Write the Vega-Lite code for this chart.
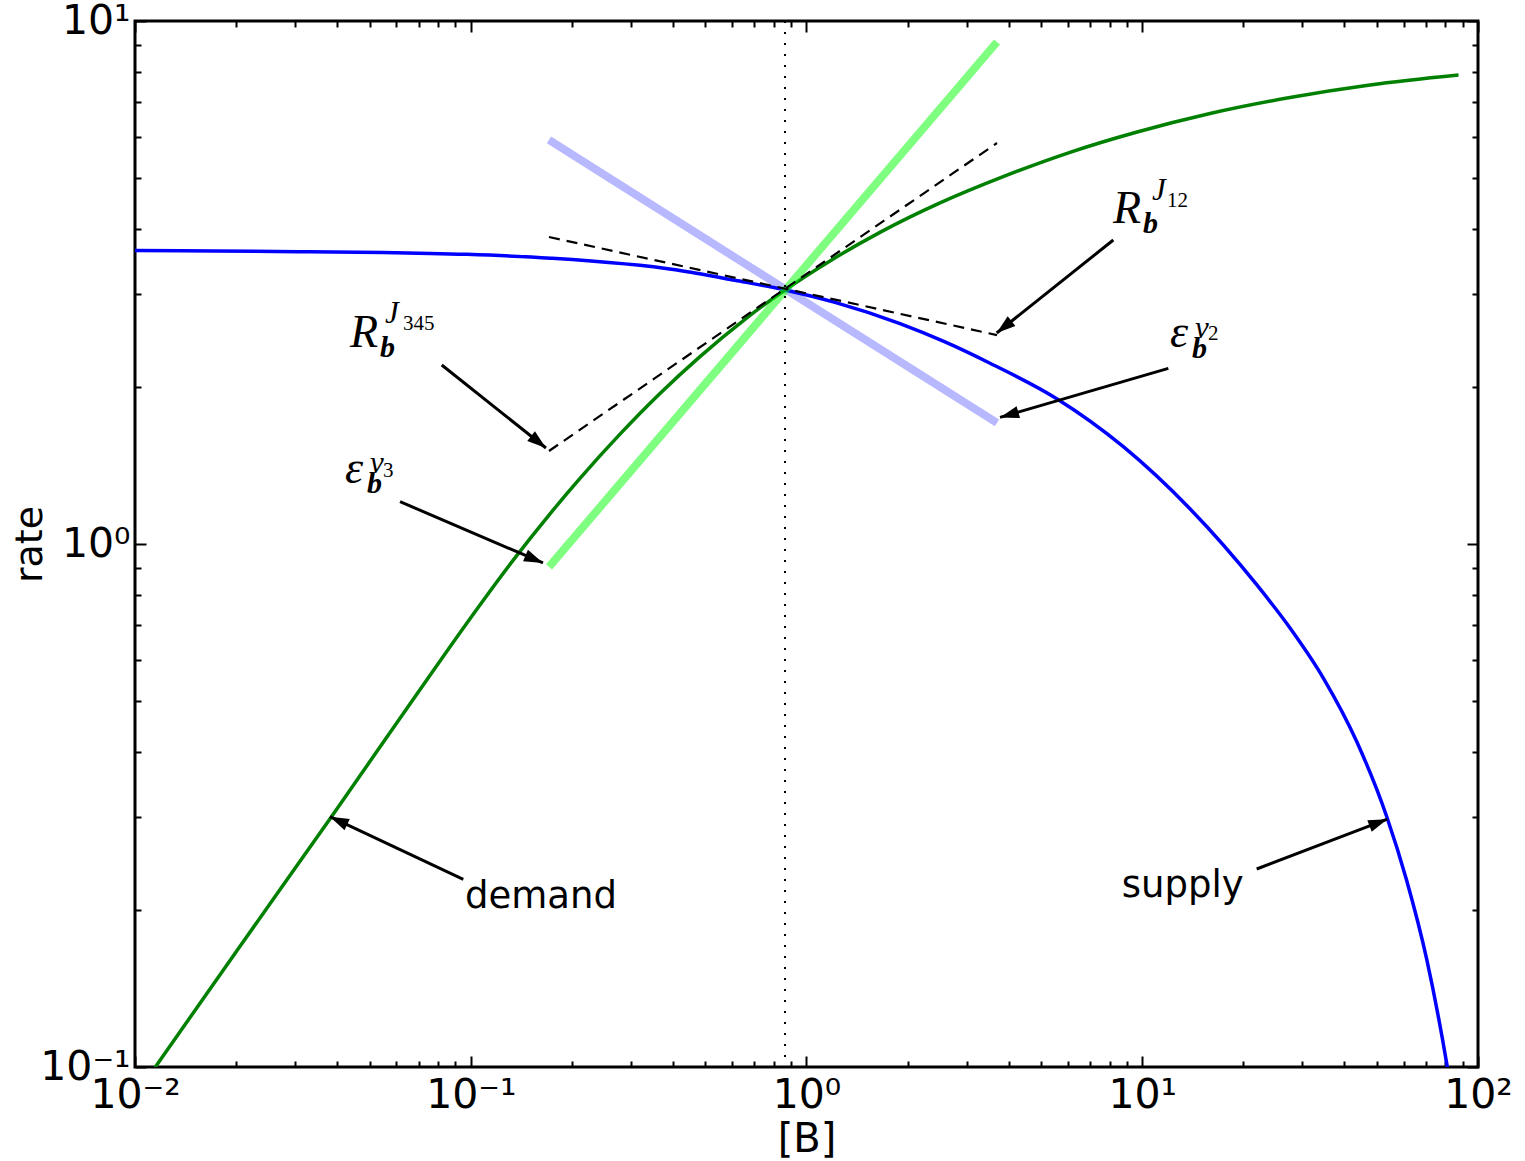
{
  "$schema": "https://vega.github.io/schema/vega-lite/v6.json",
  "width": 1343,
  "height": 1046,
  "autosize": {"type": "none"},
  "padding": {"left": 135, "top": 21, "right": 47, "bottom": 94},
  "background": "white",
  "config": {
    "view": {"stroke": "black", "strokeWidth": 3},
    "font": "DejaVu Sans",
    "axis": {"grid": false, "domain": false, "tickColor": "black", "tickWidth": 2, "labelColor": "black", "titleColor": "black", "labelFont": "DejaVu Sans", "titleFont": "DejaVu Sans", "titleFontWeight": "normal", "labelOverlap": false, "labelFlush": false}
  },
  "datasets": {
    "curves": [
      {"series": "supply", "B": 0.01, "rate": 3.64},
      {"series": "supply", "B": 0.01719, "rate": 3.633},
      {"series": "supply", "B": 0.03058, "rate": 3.622},
      {"series": "supply", "B": 0.0546, "rate": 3.61},
      {"series": "supply", "B": 0.0973, "rate": 3.58},
      {"series": "supply", "B": 0.1733, "rate": 3.52},
      {"series": "supply", "B": 0.4114, "rate": 3.342},
      {"series": "supply", "B": 0.6124, "rate": 3.193},
      {"series": "supply", "B": 0.863, "rate": 3.06},
      {"series": "supply", "B": 1.216, "rate": 2.897},
      {"series": "supply", "B": 1.899, "rate": 2.638},
      {"series": "supply", "B": 2.585, "rate": 2.434},
      {"series": "supply", "B": 3.52, "rate": 2.216},
      {"series": "supply", "B": 5.563, "rate": 1.896},
      {"series": "supply", "B": 8.783, "rate": 1.535},
      {"series": "supply", "B": 13.87, "rate": 1.168},
      {"series": "supply", "B": 21.92, "rate": 0.8359},
      {"series": "supply", "B": 27.55, "rate": 0.6909},
      {"series": "supply", "B": 34.62, "rate": 0.5543},
      {"series": "supply", "B": 43.52, "rate": 0.4191},
      {"series": "supply", "B": 53.46, "rate": 0.3013},
      {"series": "supply", "B": 61.32, "rate": 0.2273},
      {"series": "supply", "B": 70.36, "rate": 0.1606},
      {"series": "supply", "B": 80.7, "rate": 0.1015},
      {"series": "supply", "B": 83.62, "rate": 0.0883},
      {"series": "demand", "B": 0.01147, "rate": 0.0998},
      {"series": "demand", "B": 0.02055, "rate": 0.1702},
      {"series": "demand", "B": 0.03852, "rate": 0.3014},
      {"series": "demand", "B": 0.0667, "rate": 0.4999},
      {"series": "demand", "B": 0.09614, "rate": 0.698},
      {"series": "demand", "B": 0.1324, "rate": 0.9231},
      {"series": "demand", "B": 0.1722, "rate": 1.142},
      {"series": "demand", "B": 0.2115, "rate": 1.335},
      {"series": "demand", "B": 0.2783, "rate": 1.622},
      {"series": "demand", "B": 0.3661, "rate": 1.94},
      {"series": "demand", "B": 0.4817, "rate": 2.282},
      {"series": "demand", "B": 0.6558, "rate": 2.689},
      {"series": "demand", "B": 0.863, "rate": 3.06},
      {"series": "demand", "B": 1.175, "rate": 3.478},
      {"series": "demand", "B": 1.655, "rate": 3.943},
      {"series": "demand", "B": 2.498, "rate": 4.489},
      {"series": "demand", "B": 3.853, "rate": 5.039},
      {"series": "demand", "B": 6.093, "rate": 5.609},
      {"series": "demand", "B": 9.654, "rate": 6.134},
      {"series": "demand", "B": 15.92, "rate": 6.655},
      {"series": "demand", "B": 27.55, "rate": 7.14},
      {"series": "demand", "B": 47.68, "rate": 7.544},
      {"series": "demand", "B": 87.5, "rate": 7.883}
    ],
    "tangents": [
      {"line": "eps_v2", "B": 0.171, "rate": 5.923},
      {"line": "eps_v2", "B": 3.693, "rate": 1.704},
      {"line": "eps_v3", "B": 0.171, "rate": 0.9039},
      {"line": "eps_v3", "B": 3.693, "rate": 9.117},
      {"line": "R_J345", "B": 0.171, "rate": 1.506},
      {"line": "R_J345", "B": 3.693, "rate": 5.844},
      {"line": "R_J12", "B": 0.171, "rate": 3.864},
      {"line": "R_J12", "B": 3.693, "rate": 2.509}
    ],
    "steady": [{"B": 0.863}],
    "arrows": [
      {"arrow": "demand", "end": "tail", "B": 0.09501, "rate": 0.2285},
      {"arrow": "demand", "end": "tip", "B": 0.03808, "rate": 0.3011},
      {"arrow": "supply", "end": "tail", "B": 21.92, "rate": 0.2391},
      {"arrow": "supply", "end": "tip", "B": 53.68, "rate": 0.2977},
      {"arrow": "R345", "end": "tail", "B": 0.08197, "rate": 2.199},
      {"arrow": "R345", "end": "tip", "B": 0.1675, "rate": 1.526},
      {"arrow": "eps_v3", "end": "tail", "B": 0.06157, "rate": 1.205},
      {"arrow": "eps_v3", "end": "tip", "B": 0.1641, "rate": 0.92},
      {"arrow": "R12", "end": "tail", "B": 8.201, "rate": 3.813},
      {"arrow": "R12", "end": "tip", "B": 3.685, "rate": 2.532},
      {"arrow": "eps_v2", "end": "tail", "B": 11.96, "rate": 2.167},
      {"arrow": "eps_v2", "end": "tip", "B": 3.771, "rate": 1.746}
    ],
    "words": [
      {"text": "demand", "B": 0.09614, "rate": 0.2014},
      {"text": "supply", "B": 8.687, "rate": 0.2113}
    ],
    "math": [
      {"role": "main", "t": "R", "B": 0.04369, "rate": 2.381},
      {"role": "main", "t": "ε", "B": 0.04222, "rate": 1.308},
      {"role": "main", "t": "R", "B": 8.184, "rate": 4.11},
      {"role": "main", "t": "ε", "B": 12.09, "rate": 2.381},
      {"role": "sub", "t": "b", "B": 0.05366, "rate": 2.278},
      {"role": "sub", "t": "b", "B": 0.04909, "rate": 1.252},
      {"role": "sub", "t": "b", "B": 10.05, "rate": 3.932},
      {"role": "sub", "t": "b", "B": 14.07, "rate": 2.268},
      {"role": "sup", "t": "J", "B": 0.05553, "rate": 2.646},
      {"role": "sup", "t": "v", "B": 0.05011, "rate": 1.367},
      {"role": "sup", "t": "J", "B": 10.69, "rate": 4.547},
      {"role": "sup", "t": "v", "B": 14.36, "rate": 2.477},
      {"role": "supsub", "t": "345", "B": 0.06283, "rate": 2.566},
      {"role": "supsub", "t": "3", "B": 0.05477, "rate": 1.343},
      {"role": "supsub", "t": "12", "B": 11.85, "rate": 4.41},
      {"role": "supsub", "t": "2", "B": 15.7, "rate": 2.455}
    ]
  },
  "resolve": {"axis": {"x": "independent", "y": "independent"}},
  "layer": [
    {
      "data": {"name": "curves"},
      "transform": [{"filter": "datum.series === 'supply'"}],
      "mark": {"type": "line", "color": "#0000ff", "strokeWidth": 3.5, "clip": true, "interpolate": "monotone"},
      "encoding": {
        "x": {"field": "B", "type": "quantitative", "scale": {"type": "log", "domain": [0.01, 100], "nice": false},
          "axis": {"orient": "bottom", "values": [0.01, 0.1, 1, 10, 100], "tickSize": -11, "labelPadding": 19, "labelFontSize": 41,
            "labelExpr": "datum.value < 0.05 ? '10⁻²' : datum.value < 0.5 ? '10⁻¹' : datum.value < 5 ? '10⁰' : datum.value < 50 ? '10¹' : '10²'",
            "title": "[B]", "titleFontSize": 40, "titlePadding": 4}},
        "y": {"field": "rate", "type": "quantitative", "scale": {"type": "log", "domain": [0.1, 10], "nice": false},
          "axis": {"orient": "left", "values": [0.1, 1, 10], "tickSize": -11, "labelPadding": 16, "labelFontSize": 41,
            "labelExpr": "datum.value < 0.5 ? '10⁻¹' : datum.value < 5 ? '10⁰' : '10¹'",
            "title": "rate", "titleFontSize": 38, "titlePadding": -10}}
      }
    },
    {
      "data": {"name": "curves"},
      "transform": [{"filter": "datum.series === 'demand'"}],
      "mark": {"type": "line", "color": "#008000", "strokeWidth": 3.5, "clip": true, "interpolate": "monotone"},
      "encoding": {
        "x": {"field": "B", "type": "quantitative", "scale": {"type": "log", "domain": [0.01, 100], "nice": false},
          "axis": {"orient": "bottom", "values": [0.02, 0.03, 0.04, 0.05, 0.06, 0.07, 0.08, 0.09, 0.2, 0.3, 0.4, 0.5, 0.6, 0.7, 0.8, 0.9, 2, 3, 4, 5, 6, 7, 8, 9, 20, 30, 40, 50, 60, 70, 80, 90], "tickSize": -6, "labels": false, "title": null}},
        "y": {"field": "rate", "type": "quantitative", "scale": {"type": "log", "domain": [0.1, 10], "nice": false},
          "axis": {"orient": "left", "values": [0.2, 0.3, 0.4, 0.5, 0.6, 0.7, 0.8, 0.9, 2, 3, 4, 5, 6, 7, 8, 9], "tickSize": -6, "labels": false, "title": null}}
      }
    },
    {
      "data": {"name": "tangents"},
      "transform": [{"filter": "datum.line === 'eps_v2'"}],
      "mark": {"type": "line", "color": "#0000ff", "opacity": 0.28, "strokeWidth": 8, "strokeCap": "butt", "clip": true},
      "encoding": {
        "x": {"field": "B", "type": "quantitative", "scale": {"type": "log", "domain": [0.01, 100], "nice": false},
          "axis": {"orient": "top", "values": [0.01, 0.1, 1, 10, 100], "tickSize": -11, "labels": false, "title": null}},
        "y": {"field": "rate", "type": "quantitative", "scale": {"type": "log", "domain": [0.1, 10], "nice": false},
          "axis": {"orient": "right", "values": [0.1, 1, 10], "tickSize": -11, "labels": false, "title": null}}
      }
    },
    {
      "data": {"name": "tangents"},
      "transform": [{"filter": "datum.line === 'eps_v3'"}],
      "mark": {"type": "line", "color": "#00ff00", "opacity": 0.5, "strokeWidth": 8, "strokeCap": "butt", "clip": true},
      "encoding": {
        "x": {"field": "B", "type": "quantitative", "scale": {"type": "log", "domain": [0.01, 100], "nice": false},
          "axis": {"orient": "top", "values": [0.02, 0.03, 0.04, 0.05, 0.06, 0.07, 0.08, 0.09, 0.2, 0.3, 0.4, 0.5, 0.6, 0.7, 0.8, 0.9, 2, 3, 4, 5, 6, 7, 8, 9, 20, 30, 40, 50, 60, 70, 80, 90], "tickSize": -6, "labels": false, "title": null}},
        "y": {"field": "rate", "type": "quantitative", "scale": {"type": "log", "domain": [0.1, 10], "nice": false},
          "axis": {"orient": "right", "values": [0.2, 0.3, 0.4, 0.5, 0.6, 0.7, 0.8, 0.9, 2, 3, 4, 5, 6, 7, 8, 9], "tickSize": -6, "labels": false, "title": null}}
      }
    },
    {
      "data": {"name": "tangents"},
      "transform": [{"filter": "datum.line === 'R_J345' || datum.line === 'R_J12'"}],
      "mark": {"type": "line", "color": "black", "strokeWidth": 2.2, "strokeDash": [11, 7], "clip": true},
      "encoding": {
        "x": {"field": "B", "type": "quantitative", "scale": {"type": "log", "domain": [0.01, 100], "nice": false}, "axis": null},
        "y": {"field": "rate", "type": "quantitative", "scale": {"type": "log", "domain": [0.1, 10], "nice": false}, "axis": null},
        "detail": {"field": "line"}
      }
    },
    {
      "data": {"name": "steady"},
      "mark": {"type": "rule", "color": "black", "strokeWidth": 2, "strokeDash": [2, 9]},
      "encoding": {
        "x": {"field": "B", "type": "quantitative", "scale": {"type": "log", "domain": [0.01, 100], "nice": false}, "axis": null}
      }
    },
    {
      "data": {"name": "arrows"},
      "mark": {"type": "line", "color": "black", "strokeWidth": 3},
      "encoding": {
        "x": {"field": "B", "type": "quantitative", "scale": {"type": "log", "domain": [0.01, 100], "nice": false}, "axis": null},
        "y": {"field": "rate", "type": "quantitative", "scale": {"type": "log", "domain": [0.1, 10], "nice": false}, "axis": null},
        "detail": {"field": "arrow"}
      }
    },
    {
      "data": {"name": "arrows"},
      "transform": [{"filter": "datum.arrow === 'demand' && datum.end === 'tip'"}],
      "mark": {"type": "point", "shape": "M0,0L-2,-0.65L-2,0.65Z", "filled": true, "opacity": 1, "size": 361, "angle": 205.15, "color": "black", "strokeWidth": 0},
      "encoding": {
        "x": {"field": "B", "type": "quantitative", "axis": null},
        "y": {"field": "rate", "type": "quantitative", "axis": null}
      }
    },
    {
      "data": {"name": "arrows"},
      "transform": [{"filter": "datum.arrow === 'supply' && datum.end === 'tip'"}],
      "mark": {"type": "point", "shape": "M0,0L-2,-0.65L-2,0.65Z", "filled": true, "opacity": 1, "size": 361, "angle": 339.2, "color": "black", "strokeWidth": 0},
      "encoding": {
        "x": {"field": "B", "type": "quantitative", "axis": null},
        "y": {"field": "rate", "type": "quantitative", "axis": null}
      }
    },
    {
      "data": {"name": "arrows"},
      "transform": [{"filter": "datum.arrow === 'R345' && datum.end === 'tip'"}],
      "mark": {"type": "point", "shape": "M0,0L-2,-0.65L-2,0.65Z", "filled": true, "opacity": 1, "size": 361, "angle": 38.5, "color": "black", "strokeWidth": 0},
      "encoding": {
        "x": {"field": "B", "type": "quantitative", "axis": null},
        "y": {"field": "rate", "type": "quantitative", "axis": null}
      }
    },
    {
      "data": {"name": "arrows"},
      "transform": [{"filter": "datum.arrow === 'eps_v3' && datum.end === 'tip'"}],
      "mark": {"type": "point", "shape": "M0,0L-2,-0.65L-2,0.65Z", "filled": true, "opacity": 1, "size": 361, "angle": 23.2, "color": "black", "strokeWidth": 0},
      "encoding": {
        "x": {"field": "B", "type": "quantitative", "axis": null},
        "y": {"field": "rate", "type": "quantitative", "axis": null}
      }
    },
    {
      "data": {"name": "arrows"},
      "transform": [{"filter": "datum.arrow === 'R12' && datum.end === 'tip'"}],
      "mark": {"type": "point", "shape": "M0,0L-2,-0.65L-2,0.65Z", "filled": true, "opacity": 1, "size": 361, "angle": 141.4, "color": "black", "strokeWidth": 0},
      "encoding": {
        "x": {"field": "B", "type": "quantitative", "axis": null},
        "y": {"field": "rate", "type": "quantitative", "axis": null}
      }
    },
    {
      "data": {"name": "arrows"},
      "transform": [{"filter": "datum.arrow === 'eps_v2' && datum.end === 'tip'"}],
      "mark": {"type": "point", "shape": "M0,0L-2,-0.65L-2,0.65Z", "filled": true, "opacity": 1, "size": 361, "angle": 163.8, "color": "black", "strokeWidth": 0},
      "encoding": {
        "x": {"field": "B", "type": "quantitative", "axis": null},
        "y": {"field": "rate", "type": "quantitative", "axis": null}
      }
    },
    {
      "data": {"name": "words"},
      "mark": {"type": "text", "font": "DejaVu Sans", "fontSize": 37, "align": "left", "baseline": "alphabetic", "color": "black"},
      "encoding": {
        "x": {"field": "B", "type": "quantitative", "axis": null},
        "y": {"field": "rate", "type": "quantitative", "axis": null},
        "text": {"field": "text"}
      }
    },
    {
      "data": {"name": "math"},
      "transform": [{"filter": "datum.role === 'main'"}],
      "mark": {"type": "text", "font": "Liberation Serif", "fontStyle": "italic", "fontSize": 46, "align": "left", "baseline": "alphabetic", "color": "black"},
      "encoding": {
        "x": {"field": "B", "type": "quantitative", "axis": null},
        "y": {"field": "rate", "type": "quantitative", "axis": null},
        "text": {"field": "t"}
      }
    },
    {
      "data": {"name": "math"},
      "transform": [{"filter": "datum.role === 'sub'"}],
      "mark": {"type": "text", "font": "Liberation Serif", "fontStyle": "italic", "fontWeight": "bold", "fontSize": 30, "align": "left", "baseline": "alphabetic", "color": "black"},
      "encoding": {
        "x": {"field": "B", "type": "quantitative", "axis": null},
        "y": {"field": "rate", "type": "quantitative", "axis": null},
        "text": {"field": "t"}
      }
    },
    {
      "data": {"name": "math"},
      "transform": [{"filter": "datum.role === 'sup'"}],
      "mark": {"type": "text", "font": "Liberation Serif", "fontStyle": "italic", "fontSize": 31, "align": "left", "baseline": "alphabetic", "color": "black"},
      "encoding": {
        "x": {"field": "B", "type": "quantitative", "axis": null},
        "y": {"field": "rate", "type": "quantitative", "axis": null},
        "text": {"field": "t"}
      }
    },
    {
      "data": {"name": "math"},
      "transform": [{"filter": "datum.role === 'supsub'"}],
      "mark": {"type": "text", "font": "Liberation Serif", "fontSize": 21, "align": "left", "baseline": "alphabetic", "color": "black"},
      "encoding": {
        "x": {"field": "B", "type": "quantitative", "axis": null},
        "y": {"field": "rate", "type": "quantitative", "axis": null},
        "text": {"field": "t"}
      }
    }
  ]
}
